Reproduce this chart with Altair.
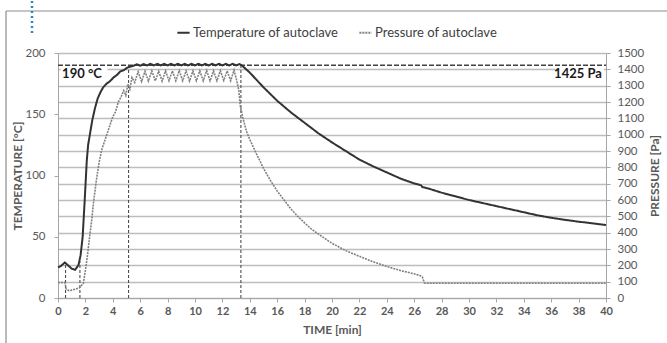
import altair as alt
import pandas as pd

T_NAME = "Temperature of autoclave"
P_NAME = "Pressure of autoclave"

temp_time = [0, 0.2, 0.5, 0.8, 1.0, 1.25, 1.5, 1.65, 1.8, 1.95, 2.1, 2.2, 2.35, 2.5, 2.7, 2.9,
             3.1, 3.3, 3.55, 3.8, 4.05, 4.3, 4.55, 4.8, 5.05, 5.3,
             5.5, 5.75, 6.0, 6.25, 6.5, 6.75, 7.0, 7.25, 7.5, 7.75, 8.0, 8.25, 8.5, 8.75, 9.0,
             9.25, 9.5, 9.75, 10.0, 10.25, 10.5, 10.75, 11.0, 11.25, 11.5, 11.75, 12.0, 12.25,
             12.5, 12.75, 13.0, 13.25, 13.4, 13.6,
             14, 14.5, 15, 15.5, 16, 17, 18, 19, 20, 21, 22, 23, 24, 25, 26, 26.5, 26.6, 27,
             28, 29, 30, 31, 32, 33, 34, 35, 36, 37, 38, 39, 40]
temp_val = [25, 26, 29, 26, 24, 23, 27, 35, 50, 80, 112, 125, 135, 145, 155, 163,
            168, 172, 175, 177, 180, 182, 185, 186, 188, 189,
            189.5, 190.8, 189.6, 191, 189.8, 191.2, 189.8, 191.2, 189.8, 191.2, 189.8, 191.2,
            189.8, 191.2, 189.8, 191.2, 189.8, 191.2, 189.8, 191.2, 189.8, 191.2, 189.8,
            191.2, 189.8, 191.2, 189.8, 191.2, 189.8, 191.2, 189.8, 191, 190, 188,
            184, 178, 172, 166.5, 161, 151.5, 143, 134.5, 127, 120, 113, 107.5, 102.5, 97.5,
            93.5, 92, 90.5, 89.5, 86, 83, 80, 77.5, 75, 72.5, 70, 67.5, 65.5, 63.8, 62.3, 61, 59.6]

pres_time = [0, 0.5, 0.6, 0.8, 1.0, 1.3, 1.55, 1.7, 1.85, 2.0, 2.15, 2.3, 2.45, 2.6, 2.8,
             3.0, 3.2, 3.4, 3.6, 3.8, 4.0, 4.2, 4.4, 4.6, 4.8, 4.95, 5.1, 5.25, 5.4,
             5.6, 5.85, 6.1, 6.35, 6.6, 6.85, 7.1, 7.35, 7.6, 7.85, 8.1, 8.35, 8.6, 8.85,
             9.1, 9.35, 9.6, 9.85, 10.1, 10.35, 10.6, 10.85, 11.1, 11.35, 11.6, 11.85,
             12.1, 12.35, 12.6, 12.85, 13.05,
             13.2, 13.3, 13.5, 13.77, 14.0, 14.5, 15, 15.5, 16, 16.5, 17, 17.5, 18, 18.5,
             19, 19.5, 20, 21, 22, 23, 24, 25, 26, 26.5, 26.6, 26.75, 27, 30, 34, 38, 40]
pres_val = [95, 95, 55, 45, 48, 55, 62, 75, 90, 170, 260, 370, 470, 590, 720,
            830, 910, 960, 1010, 1060, 1110, 1140, 1200, 1230, 1270, 1240, 1310, 1280, 1350,
            1320, 1385, 1325, 1388, 1328, 1390, 1330, 1388, 1328, 1390, 1330, 1390, 1330,
            1392, 1330, 1390, 1328, 1390, 1330, 1390, 1330, 1392, 1330, 1390, 1330, 1392,
            1332, 1390, 1330, 1395, 1330,
            1270, 1180, 1100, 1018, 970, 880, 794, 720, 655, 600, 545, 500, 460, 422,
            392, 363, 335, 290, 255, 222, 193, 168, 148, 135, 128, 92, 90, 90, 90, 90, 90]

x_ticks = list(range(0, 41, 2))
temp_ticks = [0, 50, 100, 150, 200]
pres_ticks = list(range(0, 1501, 100))

marker_time = [0.55, 1.6, 5.15, 13.35]
marker_top = [29, 30, 190, 190]
set_temp = 190
label_left = "190 °C"
label_right = "1425 Pa"
label_left_x = 0.3
label_right_x = 39.7
box_x = [0.2, 36.3]
box_x2 = [3.6, 39.85]
box_lo = [177.5, 177.5]
box_hi = [189.3, 189.3]

temp_df = pd.DataFrame({"t": temp_time, "v": temp_val, "series": T_NAME})
pres_df = pd.DataFrame({"t": pres_time, "v": pres_val, "series": P_NAME})
mark_df = pd.DataFrame({"t": marker_time, "top": marker_top, "base": 0})
set_df = pd.DataFrame({"t": [0], "t1": [40], "v": [set_temp]})
labl_df = pd.DataFrame({"t": [label_left_x], "txt": [label_left], "v": [set_temp]})
labr_df = pd.DataFrame({"t": [label_right_x], "txt": [label_right], "v": [set_temp]})
box_df = pd.DataFrame({"t": box_x, "x2": box_x2, "lo": box_lo, "hi": box_hi})

FONT = "Lato"
GRAY = "#595959"

xscale = alt.Scale(domain=[0, 40], nice=False)
xaxis = alt.Axis(values=x_ticks, title="TIME [min]", grid=False, format="d",
                 labelOverlap=False, labelFlush=False,
                 labelFontSize=11, labelColor=GRAY, labelFont=FONT,
                 labelFontWeight="bold", tickSize=4, tickColor="#a6a6a6",
                 domainColor="#a6a6a6", labelPadding=3, titlePadding=8,
                 titleFont=FONT, titleFontSize=12, titleColor=GRAY,
                 titleFontWeight="bold")


def xq():
    return alt.X("t:Q", scale=xscale, axis=xaxis)


tscale = alt.Scale(domain=[0, 200], nice=False)
taxis = alt.Axis(values=temp_ticks, title="TEMPERATURE [°C]", grid=False, format="d",
                 labelOverlap=False, labelFlush=False,
                 labelFontSize=11.5, labelColor=GRAY, labelFont=FONT,
                 tickSize=4, tickColor="#a6a6a6", domainColor="#a6a6a6",
                 labelPadding=9, titlePadding=0, titleFont=FONT, titleFontSize=12,
                 titleColor=GRAY, titleFontWeight="bold")

cscale = alt.Scale(domain=[T_NAME, P_NAME], range=["#333333", "#808080"])
dscale = alt.Scale(domain=[T_NAME, P_NAME], range=[[1, 0], [2, 1]])
leg = alt.Legend(title=None, orient="none", legendX=118, legendY=-28,
                 direction="horizontal", symbolType="stroke", symbolSize=150,
                 symbolStrokeWidth=2, labelFontSize=13, labelFont=FONT,
                 labelColor="#404040", columnPadding=16, labelOffset=2)

temp_line = alt.Chart(temp_df).mark_line(strokeWidth=2).encode(
    x=xq(),
    y=alt.Y("v:Q", scale=tscale, axis=taxis),
    color=alt.Color("series:N", scale=cscale, legend=leg),
    strokeDash=alt.StrokeDash("series:N", scale=dscale, legend=leg),
)

vrules = alt.Chart(mark_df).mark_rule(color="#4d4d4d", strokeWidth=1.1,
                                      strokeDash=[3, 2]).encode(
    x=xq(),
    y=alt.Y("base:Q", scale=tscale, axis=taxis),
    y2="top:Q",
)

hrule = alt.Chart(set_df).mark_rule(color="#404040", strokeWidth=1.3,
                                    strokeDash=[5, 2]).encode(
    x=xq(), x2="t1:Q",
    y=alt.Y("v:Q", scale=tscale, axis=taxis),
)

boxes = alt.Chart(box_df).mark_rect(color="white").encode(
    x=xq(), x2="x2:Q",
    y=alt.Y("lo:Q", scale=tscale, axis=taxis), y2="hi:Q",
)

label_l = alt.Chart(labl_df).mark_text(fontSize=13, fontWeight="bold", font=FONT,
                                       color="#1a1a1a", baseline="top", dy=3,
                                       align="left").encode(
    x=xq(), y=alt.Y("v:Q", scale=tscale, axis=taxis), text="txt:N")
label_r = alt.Chart(labr_df).mark_text(fontSize=13, fontWeight="bold", font=FONT,
                                       color="#1a1a1a", baseline="top", dy=3,
                                       align="right").encode(
    x=xq(), y=alt.Y("v:Q", scale=tscale, axis=taxis), text="txt:N")

temp_group = alt.layer(boxes, hrule, vrules, temp_line, label_l, label_r)

pres_line = alt.Chart(pres_df).mark_line(strokeWidth=1.6).encode(
    x=xq(),
    y=alt.Y("v:Q", scale=alt.Scale(domain=[0, 1500], nice=False),
            axis=alt.Axis(orient="right", values=pres_ticks, title="PRESSURE [Pa]",
                          format="d", labelOverlap=False, labelFlush=False,
                          grid=True, gridColor="#bdbdbd", gridWidth=1.4,
                          labelFontSize=11.5, labelColor=GRAY, labelFont=FONT,
                          tickSize=4, tickColor="#a6a6a6", domainColor="#a6a6a6",
                          labelPadding=7, titlePadding=6, titleAngle=270,
                          titleBaseline="top",
                          titleFont=FONT, titleFontSize=12, titleColor=GRAY,
                          titleFontWeight="bold", zindex=0)),
    color=alt.Color("series:N", scale=cscale, legend=leg),
    strokeDash=alt.StrokeDash("series:N", scale=dscale, legend=leg),
)

one = pd.DataFrame({"a": [0]})
frame_top = alt.Chart(one).mark_rule(color="#8c8c8c", strokeWidth=1.2).encode(
    x=alt.value(-52), x2=alt.value(612), y=alt.value(-42))
frame_left = alt.Chart(one).mark_rule(color="#8c8c8c", strokeWidth=1.2).encode(
    x=alt.value(-52), y=alt.value(-42), y2=alt.value(292))
blue_dots = alt.Chart(one).mark_rule(color="#2b86c5", strokeWidth=2.5,
                                     strokeDash=[2, 3]).encode(
    x=alt.value(-26), y=alt.value(-52), y2=alt.value(-20))

chart = alt.layer(temp_group, pres_line, frame_top, frame_left, blue_dots).resolve_scale(
    y="independent"
).properties(
    width=548, height=245,
    padding={"left": 58, "top": 53, "right": 61, "bottom": 45},
    autosize=alt.AutoSizeParams(type="none"),
    background="white",
).configure_view(stroke=None)

chart.save("out.html", embed_options={"renderer": "svg", "actions": False})
